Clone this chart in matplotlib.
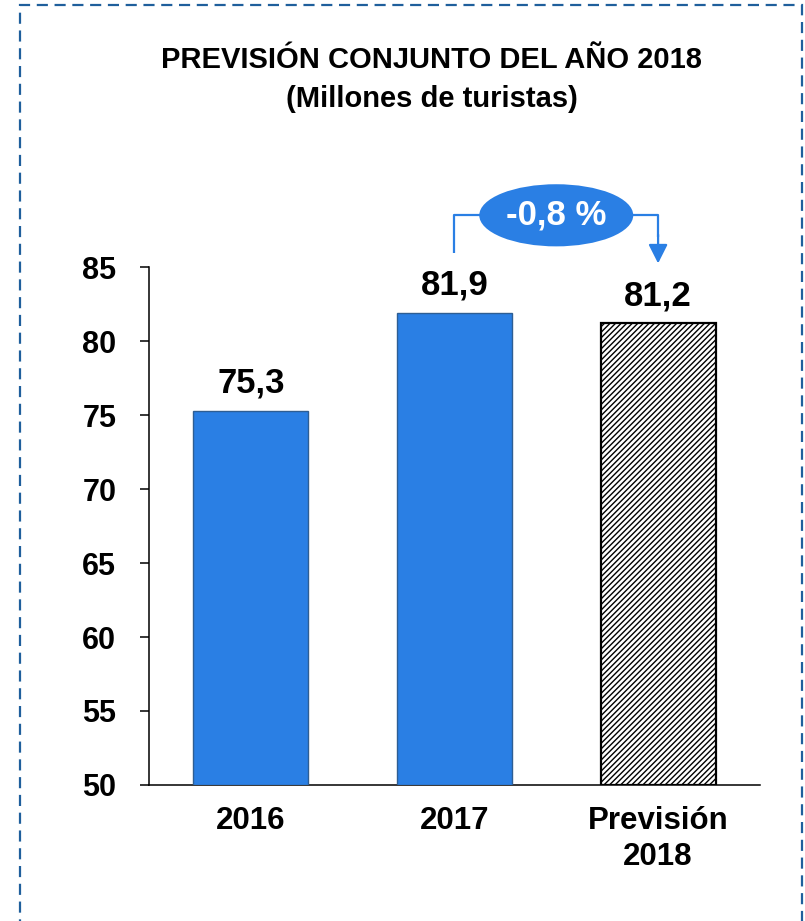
# prevision_turistas_2018.py
# Bar chart: forecast of international tourists, 2016-2018

import matplotlib.pyplot as plt
from matplotlib.patches import Ellipse, Rectangle


# =============================================================================
# Data
# =============================================================================

CATEGORIES = ["2016", "2017", "Previsión\n2018"]
VALUES = [75.3, 81.9, 81.2]
VALUE_LABELS = ["75,3", "81,9", "81,2"]
IS_FORECAST = [False, False, True]

Y_TICKS = [50, 55, 60, 65, 70, 75, 80, 85]

CHANGE_LABEL = "-0,8 %"

TITLE = "PREVISIÓN CONJUNTO DEL AÑO 2018\n(Millones de turistas)"


# =============================================================================
# Style
# =============================================================================

FONT = ["Liberation Sans", "DejaVu Sans"]
BLUE = "#2A7FE4"
BAR_EDGE = "#2E5E93"
FRAME = "#1F5F9C"

plt.rcParams["font.family"] = FONT
plt.rcParams["font.weight"] = "bold"
plt.rcParams["hatch.linewidth"] = 1.0


# =============================================================================
# Plotting
# =============================================================================

def draw_bars(ax):
    x = list(range(len(CATEGORIES)))
    for i, (v, fc) in enumerate(zip(VALUES, IS_FORECAST)):
        if fc:
            ax.bar(i, v - 50, bottom=50, width=0.565, facecolor="white",
                   edgecolor="black", linewidth=1.6, hatch="//////", zorder=3)
        else:
            ax.bar(i, v - 50, bottom=50, width=0.565, color=BLUE,
                   edgecolor=BAR_EDGE, linewidth=1.0, zorder=3)
        ax.text(i, v + 0.75, VALUE_LABELS[i], ha="center", va="bottom",
                fontsize=25, fontweight="bold")

    ax.set_xlim(-0.5, 2.5)
    ax.set_ylim(50, 85)
    ax.set_xticks(x)
    ax.set_xticklabels(CATEGORIES, fontsize=22.5, fontweight="bold",
                       linespacing=1.28)
    ax.set_yticks(Y_TICKS)
    ax.set_yticklabels([str(t) for t in Y_TICKS], fontsize=22,
                       fontweight="bold")
    ax.tick_params(axis="x", length=0, pad=15)
    ax.tick_params(axis="y", length=6.5, width=1.1, pad=17)

    for side in ["top", "right"]:
        ax.spines[side].set_visible(False)
    for side in ["left", "bottom"]:
        ax.spines[side].set_linewidth(1.1)


def draw_change_badge(ax):
    y_top = 88.5
    ax.plot([1, 1, 2, 2], [85.95, y_top, y_top, 87.0], color=BLUE,
            linewidth=1.6, clip_on=False, zorder=4, solid_capstyle="butt")
    ax.annotate("", xy=(2, 85.25), xytext=(2, 87.2),
                arrowprops=dict(arrowstyle="-|>,head_length=1.15,head_width=0.58",
                                color=BLUE, linewidth=1.6, mutation_scale=10,
                                shrinkA=0, shrinkB=0),
                annotation_clip=False, zorder=4)
    badge = Ellipse((1.5, y_top), width=0.756, height=4.2, facecolor=BLUE,
                    edgecolor="none", clip_on=False, zorder=5)
    ax.add_patch(badge)
    ax.text(1.5, y_top, CHANGE_LABEL, ha="center", va="center", color="white",
            fontsize=25, fontweight="bold", zorder=6)


def main():
    fig = plt.figure(figsize=(8.05, 9.21), dpi=100)
    ax = fig.add_axes([0.185, 0.1477, 0.759, 0.5623])

    draw_bars(ax)
    draw_change_badge(ax)

    fig.text(0.536, 0.914, TITLE, ha="center", va="center", fontsize=21,
             fontweight="bold", linespacing=1.5)

    frame = Rectangle((20 / 805, -0.05), 782 / 805, 1.05 - 5 / 921,
                      transform=fig.transFigure, fill=False, edgecolor=FRAME,
                      linewidth=1.6, linestyle=(0, (5, 3)), clip_on=False)
    fig.patches.append(frame)

    fig.savefig("out.png", dpi=100)
    plt.close(fig)


if __name__ == "__main__":
    main()
